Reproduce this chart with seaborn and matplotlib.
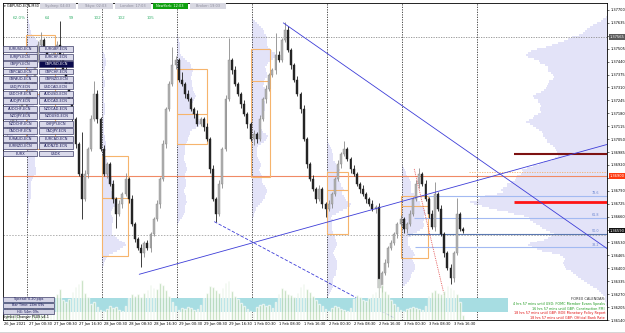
import numpy as np
import pandas as pd
import matplotlib.pyplot as plt
import seaborn as sns
from matplotlib.patches import Rectangle

# ===== 数据区 =====
PIP = 0.0001
first_open = 1.3708
close = [
    1.3710, 1.37125, 1.3715, 1.37175, 1.3720, 1.37225, 1.3725, 1.37275, 1.37325, 1.3745,
    1.37525, 1.3755, 1.3750, 1.3745, 1.37475, 1.3750, 1.37525, 1.37475, 1.3740, 1.37325,
    1.3725, 1.3715, 1.37025, 1.36875, 1.3675, 1.36875, 1.3700, 1.3715, 1.37275, 1.3715,
    1.3700, 1.36875, 1.36925, 1.36825, 1.3675, 1.36675, 1.36725, 1.36775, 1.3685, 1.3675,
    1.36625, 1.3655, 1.3650, 1.36475, 1.36525, 1.3650, 1.36575, 1.3665, 1.36725, 1.3685,
    1.37025, 1.3720, 1.37325, 1.37425, 1.3745, 1.3735, 1.37325, 1.37275, 1.3725, 1.3720,
    1.37175, 1.37125, 1.3715, 1.3711, 1.3705, 1.3690, 1.3675, 1.36675, 1.36825, 1.3700,
    1.3725, 1.3745, 1.3740, 1.37325, 1.37275, 1.37225, 1.37175, 1.37125, 1.3705, 1.37075,
    1.3705, 1.3715, 1.3725, 1.3730, 1.37375, 1.3740, 1.37475, 1.3745, 1.3755, 1.3760,
    1.3750, 1.37425, 1.3735, 1.37275, 1.3720, 1.3705, 1.36925, 1.3685, 1.3680, 1.3675,
    1.3680, 1.36725, 1.3670, 1.36725, 1.36775, 1.3685, 1.36925, 1.36975, 1.3700, 1.3695,
    1.3690, 1.36875, 1.36825, 1.3680, 1.36775, 1.3675, 1.36725, 1.3670, 1.3671, 1.3630,
    1.36375, 1.36425, 1.3650, 1.36525, 1.36575, 1.36625, 1.3665, 1.3660, 1.36625, 1.36675,
    1.3675, 1.36825, 1.36875, 1.36825, 1.3675, 1.36675, 1.3661, 1.36775, 1.3670, 1.36575,
    1.36475, 1.3640, 1.3635, 1.36475, 1.36675, 1.3660, 1.3659,
]
wick_up = [
    1, 2, 1, 1, 2, 1, 1, 2, 1, 2,
    2, 4, 1, 2, 1, 1, 2, 12, 1, 2,
    1, 2, 1, 1, 21, 2, 1, 2, 7, 2,
    1, 2, 1, 1, 2, 1, 2, 1, 3, 1,
    2, 1, 1, 2, 1, 2, 1, 1, 2, 1,
    2, 1, 2, 9, 2, 1, 4, 1, 2, 1,
    1, 2, 1, 1, 2, 1, 2, 1, 2, 1,
    2, 11, 1, 2, 1, 1, 2, 1, 1, 2,
    1, 2, 1, 2, 1, 1, 11, 2, 1, 4,
    2, 1, 1, 2, 1, 2, 1, 1, 2, 1,
    2, 1, 1, 2, 1, 1, 2, 1, 4, 1,
    1, 2, 1, 1, 2, 1, 1, 2, 1, 2,
    1, 2, 1, 2, 1, 1, 2, 1, 1, 2,
    1, 2, 3, 1, 2, 1, 2, 6, 1, 2,
    1, 1, 2, 1, 8, 1, 1,
]
wick_dn = [
    1, 1, 2, 1, 1, 2, 1, 1, 2, 1,
    1, 2, 1, 1, 2, 1, 2, 3, 1, 1,
    2, 1, 2, 1, 10, 1, 2, 1, 1, 2,
    1, 1, 2, 1, 2, 7, 1, 2, 1, 2,
    1, 2, 1, 7, 2, 1, 2, 1, 1, 2,
    1, 2, 1, 1, 2, 1, 1, 2, 1, 1,
    2, 1, 1, 2, 1, 2, 1, 4, 1, 2,
    1, 1, 2, 1, 1, 2, 1, 2, 1, 3,
    2, 1, 1, 2, 1, 1, 2, 1, 1, 1,
    1, 2, 1, 1, 2, 1, 2, 1, 1, 2,
    1, 2, 4, 1, 2, 1, 1, 2, 1, 1,
    2, 1, 1, 2, 1, 2, 1, 1, 2, 8,
    2, 1, 2, 1, 1, 2, 1, 2, 2, 1,
    1, 1, 2, 1, 1, 2, 1, 2, 1, 1,
    2, 1, 3, 2, 1, 1, 1,
]
volume = [
    1800, 1500, 1200, 1000, 900, 800, 700,
    900, 1100, 1300, 1000, 1200, 900, 1000, 1400, 2600, 2900, 3400, 2200,
    2000, 2300, 3100, 3600, 3900, 4400, 3000, 2500, 1800, 2000, 1400, 1100,
    1000, 1200, 1500, 1300, 1400, 1100, 1000, 1500, 2400, 2800, 2600, 2900,
    2500, 3000, 3300, 3800, 3500, 3400, 4000, 3800, 3300, 2600, 2000, 1500,
    1100, 1300, 1200, 1400, 1300, 1100, 1200, 1600, 2400, 3000, 3700, 3600,
    3300, 3000, 3500, 4100, 4300, 3200, 2600, 2300, 1900, 1500, 1200, 1000,
    900, 1400, 1600, 1800, 1500, 1600, 1300, 2000, 2800, 3500, 3300, 2900,
    2700, 2500, 3000, 3600, 3900, 3400, 3100, 2600, 2200, 1700, 1500, 1200,
    1000, 1300, 1500, 1400, 1200, 1100, 1000, 1300, 2300, 2700, 2500, 2200,
    2100, 2400, 2800, 3100, 4500, 3800, 3200, 2800, 2200, 1800, 1400, 1100,
    1000, 1200, 1300, 1400, 1300, 1200, 1100, 1500, 2600, 3100, 3300, 3000,
    2800, 3200, 3700, 3500, 3300, 2900, 2000, 600,
]

day_start = [0, 7, 31, 55, 79, 103, 127]
sep_idx = [7, 31, 55, 79, 103, 127, 151]

time_ticks = list(range(-1, 144, 8))
time_labels = ['26 Jan 2021', '27 Jan 00:30', '27 Jan 08:30', '27 Jan 16:30',
               '28 Jan 00:30', '28 Jan 08:30', '28 Jan 16:30', '29 Jan 00:30',
               '29 Jan 08:30', '29 Jan 16:30', '1 Feb 00:30', '1 Feb 08:30',
               '1 Feb 16:30', '2 Feb 00:30', '2 Feb 08:30', '2 Feb 16:30',
               '3 Feb 00:30', '3 Feb 08:30', '3 Feb 16:30']
price_ticks = [round(1.3770 - 0.00065 * k, 5) for k in range(25)]

# 亚洲时段方框
box_x0 = [6.2, 30.6, 54.6, 78.2, 102.6, 126.2]
box_x1 = [15.5, 38.9, 64.2, 84.3, 109.3, 134.9]
box_top = [1.37575, 1.36965, 1.37405, 1.37505, 1.36885, 1.36765]
box_bot = [1.3700, 1.3646, 1.37025, 1.3686, 1.36575, 1.3645]
box_mid = [1.37275, 1.36755, 1.37175, 1.37345, 1.36795, 1.36715]

# 趋势线
trend_up_x, trend_up_y = [42.4, 192.5], [1.3637, 1.37025]
trend_dn_x, trend_dn_y = [88.5, 192.5], [1.37635, 1.36495]
trend_dash_x, trend_dash_y = [66.4, 124.0], [1.36635, 1.36150]
zig_x, zig_y = [130.4, 140.0], [1.3690, 1.36265]

fib_levels = [1.36765, 1.36655, 1.36575, 1.36505]
fib_start = [134.9, 130.4, 128.0, 130.7]
fib_labels = ['78.6', '61.8', '50.0', '38.2']

high_level = 1.37565
salmon_level = 1.36865
bid_level = 1.3657
red_level = 1.36735
maroon_level = 1.36975
orange_dash_level = 1.36885

ads = ['62.0%', '64', '99', '102', '102', '105']
ads_x = [13, 45, 69, 94, 118, 147]

btn_left = ['EURUSD-ECN', 'EURJPY-ECN', 'GBPJPY-ECN', 'GBPCAD-ECN', 'GBPAUD-ECN',
            'USDJPY-ECN', 'USDCHF-ECN', 'AUDJPY-ECN', 'AUDCHF-ECN', 'NZDJPY-ECN',
            'NZDCHF-ECN', 'CADCHF-ECN', 'EURAUD-ECN', 'EURNZD-ECN', 'EURX']
btn_right = ['EURGBP-ECN', 'EURCHF-ECN', 'GBPUSD-ECN', 'GBPCHF-ECN', 'GBPNZD-ECN',
             'USDCAD-ECN', 'AUDUSD-ECN', 'AUDCAD-ECN', 'NZDCAD-ECN', 'NZDUSD-ECN',
             'CHFJPY-ECN', 'CADJPY-ECN', 'EURCAD-ECN', 'AUDNZD-ECN', 'USDX']
sessions = ['Sydney: 04:03', 'Tokyo: 02:03', 'London: 17:03', 'NewYork: 12:03', 'Broker: 19:03']
calendar = [('4 hrs 57 mins until USD: FOMC Member Evans Speaks', '#1f9a1f'),
            ('16 hrs 57 mins until GBP: Construction PMI', '#1f9a1f'),
            ('18 hrs 57 mins until GBP: BOE Monetary Policy Report', '#e01010'),
            ('18 hrs 57 mins until GBP: Official Bank Rate', '#e01010')]
info_lines = ['Spread: 0.20 pips', 'Bar Time: 24m 09s', 'H4: 54m 09s']

# ===== 样式 =====
sns.set_style('white')
plt.rcParams['font.family'] = ['DejaVu Sans']

LAV = '#e3e3f8'
BLUE = '#3d3dd8'
XL = (-1.2, 192.08)
YL = (1.36150, 1.37735)
FS = 2.6   # 小字号
AX_H = 317  # 主图高度 (像素)

df = pd.DataFrame({'close': close, 'up': wick_up, 'dn': wick_dn, 'vol': volume})
df['open'] = [first_open] + close[:-1]
df['top'] = df[['open', 'close']].max(axis=1)
df['bot'] = df[['open', 'close']].min(axis=1)
df['high'] = df['top'] + df['up'] * PIP
df['low'] = df['bot'] - df['dn'] * PIP
idx = np.arange(len(df))
bull = (df['close'] >= df['open']).to_numpy()

fig = plt.figure(figsize=(6.25, 3.33), dpi=100)
ax = fig.add_axes([3 / 625, 13 / 333, 604 / 625, AX_H / 333])
ax.set_xlim(*XL)
ax.set_ylim(*YL)

# 成交量分布 (按日)
edges = np.arange(1.3605, 1.3780, PIP)
centers = (edges[:-1] + edges[1:]) / 2


def profile(sub):
    h = np.zeros(len(centers))
    for lo, hi, v in zip(sub['low'], sub['high'], sub['vol']):
        m = (centers >= lo) & (centers <= hi)
        if m.any():
            h[m] += v / m.sum()
    return np.convolve(h, np.ones(5) / 5, mode='same')


ends = day_start[1:] + [len(df)]
for s, e in zip(day_start, ends):
    h = profile(df.iloc[s:e])
    w = h / h.max() * 7.5
    ax.barh(centers, w, left=max(s - 0.5, XL[0]), height=PIP, color=LAV, lw=0, zorder=0.5)

h_all = profile(df)
ax.barh(centers, -h_all / h_all.max() * 44, left=XL[1], height=PIP, color=LAV, lw=0, zorder=0.5)

# 日分隔线
for s in sep_idx:
    ax.axvline(s - 0.5, color='#333333', ls=(0, (1.5, 1.5)), lw=0.6, zorder=1)

# 水平线
ax.axhline(high_level, color='#8c8c8c', ls=(0, (1.5, 1.5)), lw=0.6, zorder=1)
ax.axhline(salmon_level, color='#f08a65', lw=0.8, zorder=1)
ax.axhline(bid_level, color='#b0b0b0', ls=(0, (1.5, 1.5)), lw=0.7, zorder=1)
ax.hlines(orange_dash_level, 148, XL[1], color='#f5b06a', ls=(0, (1.5, 1.5)), lw=0.6, zorder=1)

# 亚洲时段框
for x0, x1, t, b, m in zip(box_x0, box_x1, box_top, box_bot, box_mid):
    ax.add_patch(Rectangle((x0, b), x1 - x0, t - b, fill=False, ec='#f6b46c', lw=0.8, zorder=2))
    ax.hlines(m, x0, x1, color='#f6b46c', lw=0.8, zorder=2)

# K线
wick_c = np.where(bull, '#8a8a8a', '#1e1e1e')
ax.vlines(idx, df['low'], df['high'], colors=wick_c, lw=0.6, zorder=3)
body_h = (df['top'] - df['bot']).clip(lower=0.00002)
ax.bar(idx, body_h, bottom=df['bot'], width=0.62,
       color=np.where(bull, '#b2b2b2', '#262626'), edgecolor=wick_c, lw=0.3, zorder=4)

# 斐波那契水平
for lv, st, lb in zip(fib_levels, fib_start, fib_labels):
    c = '#5a78b0' if lb == '50.0' else '#a3baf2'
    ax.hlines(lv, st, XL[1], color=c, lw=0.8, zorder=2)
    ax.text(XL[1] - 2.5, lv + 0.00004, lb, fontsize=2.4, color='#6a86d0', ha='right', va='bottom', zorder=5)

ax.hlines(maroon_level, 162.4, XL[1], color='#7d1212', lw=1.5, zorder=5)
ax.hlines(red_level, 162.4, XL[1], color='#ff1414', lw=2.0, zorder=5)

# 趋势线
ax.plot(trend_up_x, trend_up_y, color=BLUE, lw=0.6, zorder=5)
ax.plot(trend_dn_x, trend_dn_y, color=BLUE, lw=0.6, zorder=5)
ax.plot(trend_dash_x, trend_dash_y, color=BLUE, lw=0.6, ls=(0, (4, 2)), zorder=5)
ax.plot(zig_x, zig_y, color='#e04040', lw=0.6, ls=(0, (1, 1.2)), zorder=5)

# 坐标轴
ax.yaxis.tick_right()
ax.set_yticks(price_ticks, [f'{p:.5f}' for p in price_ticks])
ax.set_xticks(time_ticks, time_labels)
for lbl in ax.get_xticklabels():
    lbl.set_ha('left')
ax.tick_params(axis='y', labelsize=FS, length=1.5, width=0.4, pad=1.2, colors='black')
ax.tick_params(axis='x', labelsize=FS, length=1.2, width=0.4, pad=0.4, colors='black')
for sp in ax.spines.values():
    sp.set_color('black')
    sp.set_linewidth(0.6)

for lv, txt, fc in [(high_level, f'{high_level:.5f}', '#5a5a5a'),
                    (salmon_level, '1.36900', '#ff3a10'),
                    (close[-1], f'{close[-1]:.5f}', '#111111')]:
    ax.text(1.004, lv, txt, transform=ax.get_yaxis_transform(), fontsize=FS, color='white',
            va='center', ha='left', zorder=6,
            bbox=dict(boxstyle='square,pad=0.2', fc=fc, ec='none'))

# 成交量
vax = ax.inset_axes([0, 0, 1, 42 / AX_H])
vax.set_facecolor('none')
vmax = 4600
vax.axhspan(vmax * 0.19, vmax * 0.52, xmin=0, xmax=505 / 604, color='#a7dde2', lw=0, zorder=0)
sns.barplot(x=idx, y=df['vol'], native_scale=True, color='#9dc993', saturation=1,
            width=0.55, alpha=0.7, errorbar=None, ax=vax, zorder=2)
vax.set_xlim(*XL)
vax.set_ylim(0, vmax)
vax.set_xticks([])
vax.set_yticks([])
vax.set_xlabel('')
vax.set_ylabel('')
vax.axis('off')

# ===== 界面元素 =====
ui = fig.add_axes([0, 0, 1, 1], zorder=10)
ui.set_xlim(0, 625)
ui.set_ylim(333, 0)
ui.axis('off')
ui.patch.set_alpha(0)

ui.text(4, 6.2, '▾ GBPUSD-ECN,M30', fontsize=2.5, color='black', va='center', ha='left')
for k, s in enumerate(sessions):
    x0 = 40 + k * 37.5
    ny = s.startswith('NewYork')
    ui.add_patch(Rectangle((x0, 3.3), 35.5, 5.8, fc='#10a010' if ny else '#d8d8e2', ec='none'))
    ui.text(x0 + 17.7, 6.3, s, fontsize=2.5, color='white' if ny else '#8a8a9a', ha='center', va='center')

for t, xx in zip(ads, ads_x):
    ui.text(xx, 18, t, fontsize=3.0, color='#3cb371', ha='left', va='center')

for r, (a, b) in enumerate(zip(btn_left, btn_right)):
    y0 = 46.2 + r * 7.45
    for x0, name in ((3.0, a), (39.0, b)):
        act = name == 'GBPUSD-ECN'
        ui.add_patch(Rectangle((x0, y0), 34.3, 5.9, fc='#0b0b4d' if act else '#d9d9ea',
                               ec='#3b3b66', lw=0.5))
        ui.text(x0 + 17.1, y0 + 3.1, name, fontsize=2.5, color='white' if act else '#1c1c5c',
                ha='center', va='center')

for k, s in enumerate(info_lines):
    y0 = 296.5 + k * 6.4
    ui.add_patch(Rectangle((3.0, y0), 50.5, 5.0, fc='#d4d4e6', ec='#3b3b66', lw=0.5))
    ui.text(28.2, y0 + 2.6, s, fontsize=2.4, color='#1c1c5c', ha='center', va='center')
ui.text(3.2, 317.2, 'Symbol Changer PLUS v4.1', fontsize=2.4, color='black', ha='left', va='center')

ui.text(605, 299.5, 'FOREX CALENDAR:', fontsize=2.6, color='#333333', ha='right', va='center')
for k, (s, c) in enumerate(calendar):
    ui.text(605, 304.2 + k * 4.6, s, fontsize=2.45, color=c, ha='right', va='center')

ui.add_patch(Rectangle((0, 331.8), 625, 1.2, fc='#d6d6d6', ec='none'))

fig.savefig('out.png', dpi=100)
